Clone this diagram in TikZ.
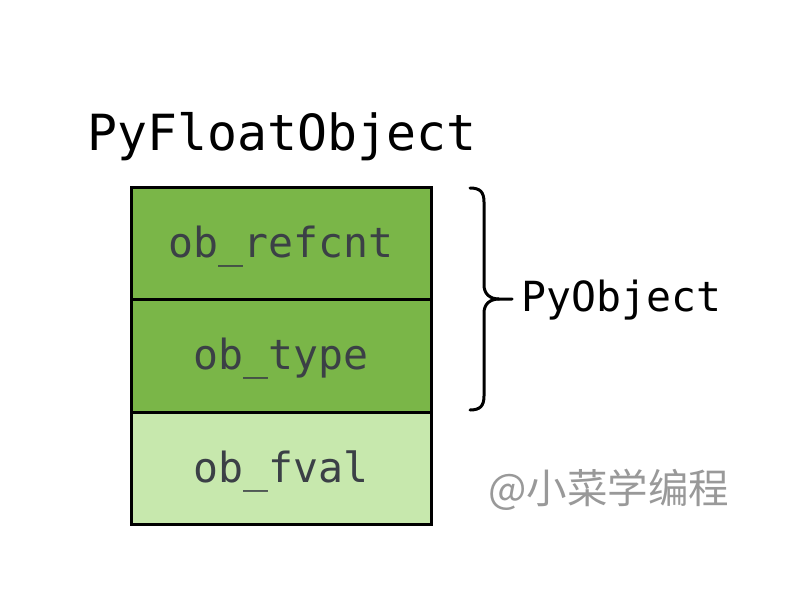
\documentclass[tikz,border=0pt]{standalone}
\usepackage{fontspec}
\setmonofont{DejaVu Sans Mono}
\newfontfamily\cjk{Noto Sans CJK SC}
\definecolor{fieldgreen}{HTML}{7AB648}
\definecolor{fieldlight}{HTML}{C7E8AD}
\definecolor{fieldtext}{HTML}{3B4046}
\definecolor{markgray}{HTML}{999999}
\tikzset{
  field/.style={draw=black, line width=3pt, minimum width=300pt, minimum height=112.5pt,
    inner sep=0pt, text height=31pt, text depth=3pt,
    font=\ttfamily\fontsize{41.5}{41.5}\selectfont, text=fieldtext},
}

\begin{document}
\begin{tikzpicture}[x=1pt,y=-1pt]
\useasboundingbox (0,0) rectangle (806,600);
\node[anchor=base west,inner sep=0pt,font=\ttfamily\fontsize{49.8}{49.8}\selectfont] (title) at (87,150) {PyFloatObject};
\node[field,fill=fieldgreen] (refcnt) at (281,243.25) {ob\_refcnt};
\node[field,fill=fieldgreen] (type) at (281,355.75) {ob\_type};
\node[field,fill=fieldlight] (fval) at (281,468.25) {ob\_fval};
% brace
\draw[line width=3pt,line cap=round] (470,188) .. controls (480,188) and (484,192) .. (484,202)
  -- (484,285) .. controls (484,294) and (490,299) .. (499,299) -- (512,299);
\draw[line width=3pt,line cap=round] (470,410) .. controls (480,410) and (484,406) .. (484,396)
  -- (484,313) .. controls (484,304) and (490,299) .. (499,299);
\node[anchor=west,inner sep=0pt,font=\ttfamily\fontsize{41.5}{41.5}\selectfont] (pyobject) at (521,300) {PyObject};
\node[anchor=west,inner sep=0pt,text=markgray,font=\cjk\fontsize{40.5}{40.5}\selectfont] (mark) at (488,490) {@小菜学编程};
\end{tikzpicture}
\end{document}
